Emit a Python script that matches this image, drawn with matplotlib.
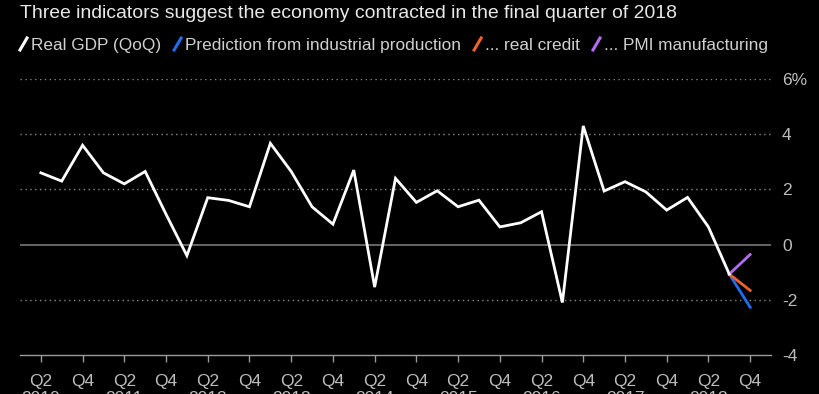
import matplotlib
matplotlib.use('Agg')
import matplotlib.pyplot as plt
from matplotlib.lines import Line2D
import numpy as np

# real GDP, quarter on quarter (annualised), Q2 2010 .. Q3 2018
gdp = [2.6, 2.3, 3.6,
       2.6, 2.2, 2.65, 1.1,
       -0.4, 1.7, 1.6, 1.37,
       3.67, 2.65, 1.37, 0.74,
       2.7, -1.54, 2.4, 1.53,
       1.95, 1.37, 1.61, 0.64,
       0.79, 1.19, -2.1, 4.3,
       1.94, 2.28, 1.91, 1.25,
       1.71, 0.64, -1.07]
# Q4 2018 predictions, drawn from the Q3 2018 value
pred_names = ['Prediction from industrial production', '... real credit', '... PMI manufacturing']
pred_q4 = [-2.27, -1.66, -0.36]
pred_colors = ['#1f6ff2', '#f2622a', '#b36cf0']

years = ['2010', '2011', '2012', '2013', '2014', '2015', '2016', '2017', '2018']
yticks = [-4, -2, 0, 2, 4, 6]
ytick_labels = ['-4', '-2', '0', '2', '4', '6%']

plt.rcParams['font.family'] = ['Liberation Sans', 'DejaVu Sans']

W, H = 820, 394
fig = plt.figure(figsize=(W/100, H/100), dpi=100, facecolor='black')
ax = fig.add_axes([20/W, 1-355/H, 751/W, 276/H], facecolor='black')

# quarter index: Q1 2010 = 0
x = np.arange(1, 1+len(gdp))
ax.plot(x, gdp, color='white', lw=2.0, solid_joinstyle='miter', zorder=5)
for v, c in zip(pred_q4, pred_colors):
    ax.plot([x[-1], x[-1]+1], [gdp[-1], v], color=c, lw=2.0, zorder=4)

ax.set_xlim(0, 36)
ax.set_ylim(-4, 6)

for g in [-2, 2, 4, 6]:
    ax.axhline(g, color='#8a8a8a', lw=1.0, ls=(0, (1, 2.5)), zorder=1)
ax.axhline(0, color='#777777', lw=1.2, zorder=1)

for s in ['top', 'left', 'right']:
    ax.spines[s].set_visible(False)
ax.spines['bottom'].set_color('#9a9a9a')
ax.spines['bottom'].set_linewidth(1.0)

xt = []
xl = []
for i, yr in enumerate(years):
    xt += [1 + 4*i, 3 + 4*i]
    xl += ['Q2\n' + yr, 'Q4']
ax.set_xticks(xt)
ax.set_xticklabels(xl, linespacing=1.15, va='top')
ax.tick_params(axis='x', colors='#9a9a9a', labelcolor='#bdbdbd', length=5,
               width=1, direction='out', pad=9, labelsize=12.5)

ax.yaxis.tick_right()
ax.set_yticks(yticks)
ax.set_yticklabels(ytick_labels)
ax.tick_params(axis='y', length=0, pad=8, labelcolor='#bdbdbd', labelsize=12.5)

fig.canvas.draw()
r = fig.canvas.get_renderer()

title = fig.text(20/W, 1-13/H, 'Three indicators suggest the economy contracted in the final quarter of 2018',
                 color='#e8e8e8', fontsize=14.5, va='center', ha='left')
# the original uses a narrow face: size the title to its width
tw = title.get_window_extent(renderer=r).width
title.set_fontsize(min(14.5, 14.5 * 655 / tw))

# legend with slanted slashes
names = ['Real GDP (QoQ)'] + pred_names
cols = ['white'] + pred_colors
lfs = 13
tot = 0
for nm in names:
    t = fig.text(0, 0, nm, fontsize=lfs)
    tot += t.get_window_extent(renderer=r).width
    t.remove()
lfs = min(lfs, lfs * 663 / tot)
px = 20
ly = 44
for nm, c in zip(names, cols):
    fig.add_artist(Line2D([px/W, (px+7)/W], [1-(ly+6)/H, 1-(ly-6)/H],
                          color=c, lw=2.2, transform=fig.transFigure))
    t = fig.text((px+11)/W, 1-(ly+6)/H, nm, color='#d0d0d0', fontsize=lfs,
                 va='baseline', ha='left')
    bb = t.get_window_extent(renderer=r)
    px = px + 11 + bb.width + 13

fig.savefig('out.png', dpi=100, facecolor='black')
